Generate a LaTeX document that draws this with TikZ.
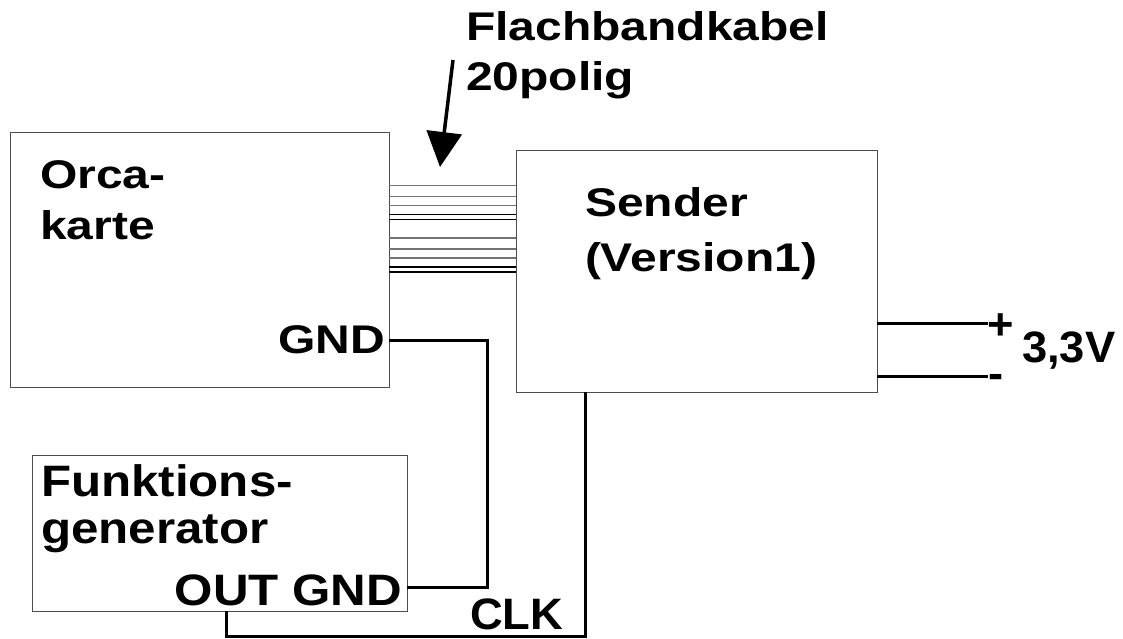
\documentclass[tikz,border=0pt]{standalone}
\usepackage{fontspec}
\setmainfont{Liberation Sans}
\newfontfamily\fwide[FakeStretch=1.2]{Liberation Sans}
\newfontfamily\fmid[FakeStretch=1.12]{Liberation Sans}
\newfontfamily\fnarrow[FakeStretch=1.03]{Liberation Sans}
\usetikzlibrary{arrows.meta}
\usetikzlibrary{positioning}
\definecolor{fg}{rgb}{0,0,0}
\tikzstyle{box}=[draw=black!70, line width=1pt, inner sep=0pt, outer sep=0pt, anchor=north west]
\tikzstyle{lbl}=[inner sep=0pt, outer sep=0pt, anchor=base west, text=fg]
\tikzstyle{wide}=[lbl, font=\fwide\bfseries\fontsize{40}{44}\selectfont]
\tikzstyle{mid}=[lbl, font=\fmid\bfseries\fontsize{44}{48}\selectfont]
\tikzstyle{narrow}=[lbl, font=\fnarrow\bfseries\fontsize{44}{48}\selectfont]
\tikzstyle{wire}=[line width=3pt, line join=miter]
\tikzstyle{cable}=[line width=1.1pt]
\tikzstyle{myarrow}=[-{Triangle[width=35pt,length=35pt]}, line width=3.5pt]

\begin{document}
\begin{tikzpicture}[x=1pt, y=-1pt]
    \useasboundingbox (0,0) rectangle (1123,639);

    % Kaesten
    \node[box, minimum width=379pt, minimum height=254pt] (orca) at (10,133) {};
    \node[box, minimum width=361pt, minimum height=241pt] (sender) at (516,151) {};
    \node[box, minimum width=375pt, minimum height=156pt] (fgen) at (32,455) {};

    % Beschriftung
    \node[wide] (flach) at (466,41) {Flachbandkabel};
    \node[wide] (polig) at (466,91) {20polig};
    \node[wide] (orca1) at (40,189) {Orca-};
    \node[wide] (orca2) at (40,239) {karte};
    \node[wide] (send1) at (585,216) {Sender};
    \node[wide] (send2) at (585,271) {(Version1)};
    \node[wide, anchor=base east] (ognd) at (385,353) {GND};
    \node[mid] (fgen1) at (41,496) {Funktions-};
    \node[mid] (fgen2) at (41,543) {generator};
    \node[mid, anchor=base east] (fout) at (402,605) {OUT GND};
    \node[narrow] (clk) at (470,629) {CLK};

    % Flachbandkabel
    \foreach \y in {185.5,196.5,205.5} {
        \draw[cable, black!55] (orca.east |- 0,\y) -- (sender.west |- 0,\y);
        \draw[cable, black!55] (orca.east |- 0,\y+52.5) -- (sender.west |- 0,\y+52.5);
    }
    \foreach \y in {214.5,219.5} {
        \draw[cable] (orca.east |- 0,\y) -- (sender.west |- 0,\y);
        \draw[cable] (orca.east |- 0,\y+52.5) -- (sender.west |- 0,\y+52.5);
    }
    \coordinate (atail) at (453,60);
    \coordinate (atip) at (440,167);
    \draw[myarrow] (atail) -- (atip);

    % Masse
    \coordinate (gndjoin) at (487,587);
    \draw[wire] (orca.east |- 0,340) -| (gndjoin) -- (fgen.east |- gndjoin);

    % Takt
    \coordinate (clkjoin) at (585,636);
    \draw[wire] (fgen.south -| 226,0) |- (clkjoin) -- (sender.south -| clkjoin);

    % Versorgung
    \coordinate (vplus) at (988,323);
    \coordinate (vminus) at (988,376);
    \draw[wire] (sender.east |- vplus) -- (vplus);
    \draw[wire] (sender.east |- vminus) -- (vminus);
    \node[narrow] (plus) at (987,339) {+};
    \node[narrow] (minus) at (988,388) {-};
    \node[narrow] (volt) at (1022,362) {3,3V};
\end{tikzpicture}
\end{document}
